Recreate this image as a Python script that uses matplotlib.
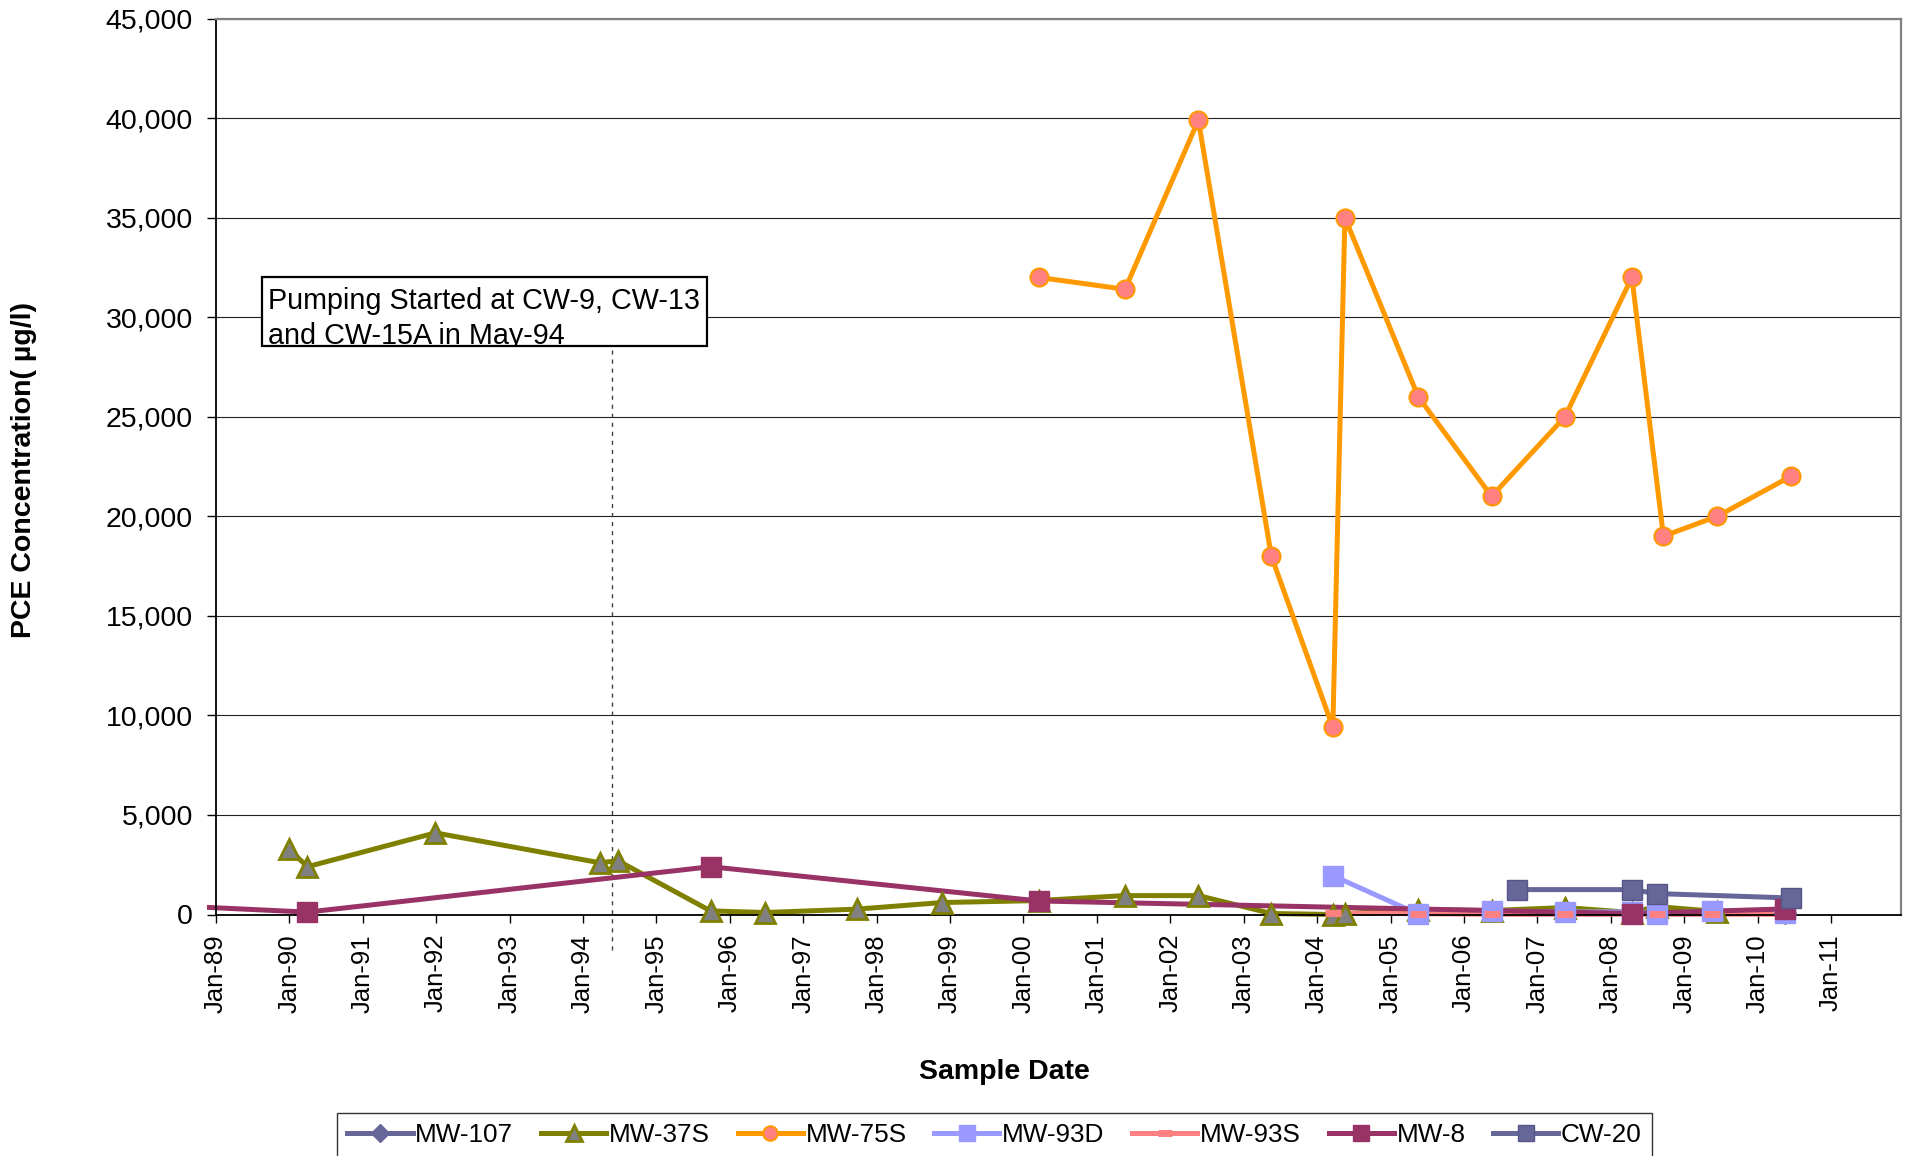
import matplotlib
matplotlib.use('Agg')
import matplotlib.pyplot as plt
import matplotlib.dates as mdates
from matplotlib.patches import Rectangle
from matplotlib.lines import Line2D
from matplotlib.ticker import FuncFormatter
from matplotlib.transforms import Bbox, TransformedBbox
import pandas as pd

plt.rcParams['font.family'] = ['Liberation Sans', 'DejaVu Sans']

# ---------------- data ----------------
series_names = ['MW-107', 'MW-37S', 'MW-75S', 'MW-93D', 'MW-93S', 'MW-8', 'CW-20']

mw107_dates = ['2010-05-20']
mw107_vals = [100]

mw37s_dates = ['1989-12-28', '1990-04-01', '1991-12-28', '1994-03-25', '1994-06-24',
               '1995-09-28', '1996-06-26', '1997-09-25', '1998-11-22', '2000-03-17',
               '2001-05-21', '2002-05-21', '2003-05-19', '2004-03-20', '2004-05-19',
               '2005-05-19', '2006-05-19', '2007-05-19', '2008-04-16', '2008-08-18',
               '2009-06-15']
mw37s_vals = [3300, 2400, 4100, 2600, 2700, 180, 100, 270, 600, 700,
              950, 950, 50, 0, 50, 250, 200, 350, 100, 400, 150]

mw75s_dates = ['2000-03-17', '2001-05-21', '2002-05-21', '2003-05-19', '2004-03-20',
               '2004-05-19', '2005-05-19', '2006-05-19', '2007-05-19', '2008-04-16',
               '2008-09-20', '2009-06-15', '2010-06-15']
mw75s_vals = [32000, 31400, 39900, 18000, 9400, 35000, 26000, 21000, 25000, 32000,
              19000, 20000, 22000]

mw93d_dates = ['2004-03-20', '2005-05-19', '2006-05-19', '2007-05-19', '2008-04-16',
               '2008-08-18', '2009-05-20', '2010-05-20']
mw93d_vals = [1950, 20, 180, 130, 130, 50, 180, 100]

mw93s_dates = ['2004-03-20', '2005-05-19', '2006-05-19', '2007-05-19', '2008-04-16',
               '2008-08-18', '2009-05-20', '2010-05-20']
mw93s_vals = [60, 40, 10, 10, 10, 10, 10, 10]

mw8_dates = ['1988-06-01', '1990-04-01', '1995-09-28', '2000-03-17', '2008-04-16', '2010-05-20']
mw8_vals = [440, 120, 2400, 680, 50, 280]

cw20_dates = ['2006-09-20', '2008-04-16', '2008-08-18', '2010-06-15']
cw20_vals = [1250, 1250, 1050, 830]

pumping_date = '1994-05-25'
annotation_lines = ['Pumping Started at CW-9, CW-13', 'and CW-15A in May-94']

y_ticks = list(range(0, 45001, 5000))

# ---------------- styles ----------------
styles = [
    dict(color='#666699', marker='D', ms=11, mfc='#666699', mec='#666699', mew=1),
    dict(color='#808000', marker='^', ms=15, mfc='#808080', mec='#808000', mew=2),
    dict(color='#FF9900', marker='o', ms=13, mfc='#FF8080', mec='#FF9900', mew=1.5),
    dict(color='#9999FF', marker='s', ms=14.5, mfc='#9999FF', mec='#9999FF', mew=1),
    dict(color='#FF8080', marker='_', ms=12, mfc='#FF8080', mec='#FF8080', mew=5),
    dict(color='#993366', marker='s', ms=14.5, mfc='#993366', mec='#993366', mew=1),
    dict(color='#666699', marker='s', ms=14.5, mfc='#666699', mec='#555588', mew=1),
]
data = [(mw107_dates, mw107_vals), (mw37s_dates, mw37s_vals), (mw75s_dates, mw75s_vals),
        (mw93d_dates, mw93d_vals), (mw93s_dates, mw93s_vals), (mw8_dates, mw8_vals),
        (cw20_dates, cw20_vals)]

W, H = 1911, 1156
fig = plt.figure(figsize=(W / 100, H / 100), dpi=100)
fig.patch.set_facecolor('white')
ax_l, ax_r, ax_t, ax_b = 216, 1901, 18.5, 914.5
ax = fig.add_axes([ax_l / W, 1 - ax_b / H, (ax_r - ax_l) / W, (ax_b - ax_t) / H])

line_clip = TransformedBbox(Bbox.from_extents(-9.3 / (ax_r - ax_l), -0.02, 1.0, 1.0), ax.transAxes)
mark_clip = TransformedBbox(Bbox.from_extents(-0.004, -0.1, 1.0, 1.1), ax.transAxes)

LW = 3.6
handles = []
for i, (name, (d, v), st) in enumerate(zip(series_names, data, styles)):
    x = pd.to_datetime(d)
    ln, = ax.plot(x, v, color=st['color'], lw=LW, zorder=2 + i * 0.01,
                  solid_joinstyle='round', solid_capstyle='butt')
    ln.set_clip_path(None)
    ln.set_clip_box(line_clip)
    mk, = ax.plot(x, v, ls='none', marker=st['marker'], ms=st['ms'], mfc=st['mfc'],
                  mec=st['mec'], mew=st['mew'], zorder=3 + i * 0.01)
    mk.set_clip_path(None)
    mk.set_clip_box(mark_clip)
    handles.append(Line2D([], [], color=st['color'], lw=LW, marker=st['marker'],
                          ms=st['ms'] * 0.8, mfc=st['mfc'], mec=st['mec'], mew=st['mew'],
                          label=name))

# axes
ax.set_xlim(pd.Timestamp('1989-01-01'), pd.Timestamp('2011-12-16'))
ax.set_ylim(0, 45000)
ax.set_yticks(y_ticks)
ax.yaxis.set_major_formatter(FuncFormatter(lambda v, p: f'{int(v):,}'))
ax.xaxis.set_major_locator(mdates.YearLocator(1, month=1, day=1))
ax.xaxis.set_major_formatter(mdates.DateFormatter('%b-%y'))
ax.tick_params(axis='x', labelrotation=90, labelsize=18.5, length=6, width=1, pad=8,
               direction='out', colors='black')
ax.tick_params(axis='y', labelsize=20.5, length=6.5, width=1, pad=10, direction='out')
ax.grid(axis='y', color='#202020', lw=0.8)
ax.grid(axis='x', visible=False)
ax.set_axisbelow(True)
for s in ['top', 'right']:
    ax.spines[s].set_color('#808080')
    ax.spines[s].set_linewidth(1.6)
for s in ['left', 'bottom']:
    ax.spines[s].set_color('black')
    ax.spines[s].set_linewidth(1.3)

# pumping line
ax.axvline(pd.Timestamp(pumping_date), ymin=-(950 - ax_b) / (ax_b - ax_t),
           ymax=(ax_b - 346) / (ax_b - ax_t), clip_on=False, color='#404040',
           lw=1.0, ls=(0, (3, 3.5)), zorder=1.5)

# annotation box
rect = Rectangle((261.7 / W, 1 - 346 / H), (707.3 - 261.7) / W, (346 - 276.7) / H,
                 transform=fig.transFigure, facecolor='white', edgecolor='black',
                 lw=1.6, zorder=10)
fig.add_artist(rect)
for txt, base in zip(annotation_lines, [309.3, 343.6]):
    t = fig.text(268.3 / W, 1 - base / H, txt, fontsize=20.7, va='baseline', ha='left',
                 zorder=11)
    t.set_clip_path(rect)

# labels
fig.text(24 / W, 1 - 470 / H, 'PCE Concentration( µg/l)', rotation=90, fontsize=20.5,
         fontweight='bold', ha='center', va='center')
fig.text(1004 / W, 1 - 1072 / H, 'Sample Date', fontsize=20.5, fontweight='bold',
         ha='center', va='center')

leg = fig.legend(handles=handles, loc='upper left', bbox_to_anchor=(336.8 / W, 1 - 1112.7 / H),
                 ncol=7, fontsize=18.8, frameon=True, fancybox=False, edgecolor='black',
                 handlelength=2.5, handletextpad=0.1, columnspacing=1.06, borderpad=0.4,
                 borderaxespad=0)
leg.get_frame().set_linewidth(1.0)

fig.savefig('out.png', dpi=100, facecolor='white')
